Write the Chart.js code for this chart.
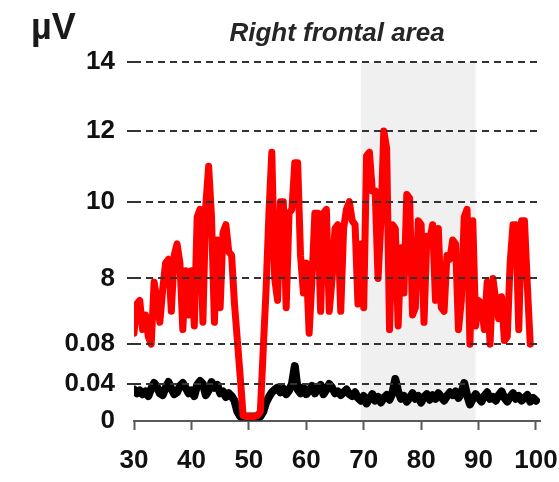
<!DOCTYPE html>
<html>
<head>
<meta charset="utf-8">
<title>Right frontal area</title>
<script src="https://cdn.jsdelivr.net/npm/chart.js@4/dist/chart.umd.min.js"></script>
<style>
    html, body { margin: 0; padding: 0; background: #fff; }
    #wrap { position: relative; width: 559px; height: 482px; }
</style>
</head>
<body>
<div id="wrap"><canvas id="chart"></canvas></div>
<script>
// sample times (x axis)
const sampleTimes = [
    30, 30.5, 31, 31.5, 32, 32.5, 33, 33.5, 34, 34.5,
    35, 35.5, 36, 36.5, 37, 37.5, 38, 38.5, 39, 39.5,
    40, 40.5, 41, 41.5, 42, 42.5, 43, 43.5, 44, 44.5,
    45, 45.5, 46, 46.5, 47, 47.5, 48, 48.5, 49, 49.5,
    50, 50.5, 51, 51.5, 52, 52.5, 53, 53.5, 54, 54.5,
    55, 55.5, 56, 56.5, 57, 57.5, 58, 58.5, 59, 59.5,
    60, 60.5, 61, 61.5, 62, 62.5, 63, 63.5, 64, 64.5,
    65, 65.5, 66, 66.5, 67, 67.5, 68, 68.5, 69, 69.5,
    70, 70.5, 71, 71.5, 72, 72.5, 73, 73.5, 74, 74.5,
    75, 75.5, 76, 76.5, 77, 77.5, 78, 78.5, 79, 79.5,
    80, 80.5, 81, 81.5, 82, 82.5, 83, 83.5, 84, 84.5,
    85, 85.5, 86, 86.5, 87, 87.5, 88, 88.5, 89, 89.5,
    90, 90.5, 91, 91.5, 92, 92.5, 93, 93.5, 94, 94.5,
    95, 95.5, 96, 96.5, 97, 97.5, 98, 98.5, 99, 99.5,
    100
];

// red trace (µV)
const redValues = [
    6.5, 7.3, 7.4, 6.6, 7.0, 6.4, 6.0, 7.9, 7.4, 6.8,
    7.7, 8.4, 8.5, 7.1, 8.6, 8.9, 8.4, 6.6, 8.2, 7.0,
    8.2, 6.7, 9.6, 9.8, 6.8, 9.9, 11.0, 9.6, 6.8, 9.0,
    7.2, 9.2, 9.4, 8.7, 8.6, 7.3, 6.3, 0.047, 0.006, 0.005,
    0.005, 0.005, 0.005, 0.006, 0.01, 0.074, 7.7, 9.7, 11.4, 8.0,
    7.4, 10.0, 10.0, 7.2, 9.7, 9.8, 11.1, 11.1, 8.6, 7.6,
    8.4, 6.5, 8.0, 9.7, 9.7, 7.1, 9.7, 9.8, 7.1, 8.0,
    9.3, 9.4, 7.1, 9.3, 9.8, 10.0, 9.5, 9.4, 7.3, 8.9,
    7.2, 11.3, 11.4, 10.3, 10.3, 8.0, 9.5, 12.0, 11.5, 6.6,
    9.4, 9.3, 6.7, 8.8, 7.6, 10.2, 10.1, 7.0, 7.2, 9.5,
    9.4, 6.8, 9.1, 9.0, 9.4, 7.4, 9.3, 7.2, 7.1, 8.6,
    8.5, 9.0, 8.9, 6.6, 7.4, 9.6, 9.8, 6.2, 9.5, 6.7,
    7.4, 7.3, 6.6, 7.9, 6.2, 8.0, 7.4, 6.9, 7.5, 6.3,
    6.4, 8.4, 9.4, 9.4, 6.6, 9.5, 9.5, 7.8, 6.0, null,
    null
];

// black trace (µV)
const blackValues = [
    0.034, 0.030, 0.033, 0.029, 0.032, 0.027, 0.035, 0.041, 0.037, 0.030,
    0.028, 0.036, 0.042, 0.035, 0.029, 0.031, 0.038, 0.041, 0.036, 0.030,
    0.033, 0.027, 0.039, 0.043, 0.040, 0.028, 0.033, 0.042, 0.036, 0.039,
    0.030, 0.032, 0.026, 0.030, 0.027, 0.022, 0.010, 0.005, 0.005, 0.005,
    0.005, 0.005, 0.005, 0.005, 0.005, 0.010, 0.020, 0.026, 0.031, 0.034,
    0.036, 0.031, 0.035, 0.029, 0.033, 0.040, 0.058, 0.034, 0.030, 0.036,
    0.029, 0.033, 0.038, 0.030, 0.035, 0.039, 0.029, 0.034, 0.040, 0.036,
    0.030, 0.032, 0.028, 0.031, 0.034, 0.029, 0.027, 0.031, 0.025, 0.022,
    0.027, 0.019, 0.024, 0.029, 0.022, 0.026, 0.020, 0.025, 0.028, 0.023,
    0.030, 0.045, 0.032, 0.024, 0.027, 0.021, 0.025, 0.030, 0.024, 0.027,
    0.020, 0.026, 0.029, 0.023, 0.028, 0.024, 0.030, 0.026, 0.022, 0.027,
    0.031, 0.028, 0.032, 0.025, 0.030, 0.041, 0.028, 0.018, 0.024, 0.029,
    0.025, 0.021, 0.027, 0.031, 0.024, 0.026, 0.022, 0.028, 0.032, 0.025,
    0.021, 0.026, 0.030, 0.024, 0.027, 0.022, 0.025, 0.028, 0.021, 0.025,
    0.022
];

const xTickValues = [30, 40, 50, 60, 70, 80, 90, 100];
const yTickValues = [0, 0.04, 0.08, 8, 10, 12, 14];
const yTickLabels = ["0", "0.04", "0.08", "8", "10", "12", "14"];

// shaded window on the x axis
const shadeRange = [69.5, 89.5];

const chartTitle = "Right frontal area";
const unitLabel = "µV";

// broken y axis: value -> share of axis height (gap between 0.08 and 6.2)
const breakValues = [0, 0.04, 0.08, 6.2, 8, 10, 12, 14];
const breakShares = [0, 0.103, 0.214, 0.214, 0.397, 0.611, 0.808, 1];

class BrokenScale extends Chart.LinearScale {
    buildTicks() {
        return yTickValues.map(v => ({ value: v }));
    }
    getPixelForValue(value) {
        if (value === null || value === undefined || isNaN(value)) return NaN;
        let share = 0;
        if (value <= breakValues[0]) {
            share = 0;
        } else if (value >= breakValues[breakValues.length - 1]) {
            share = 1;
        } else {
            for (let i = 1; i < breakValues.length; i++) {
                if (value <= breakValues[i]) {
                    const a = breakValues[i - 1], b = breakValues[i];
                    const t = (value - a) / (b - a);
                    share = breakShares[i - 1] + t * (breakShares[i] - breakShares[i - 1]);
                    break;
                }
            }
        }
        return this.getPixelForDecimal(share);
    }
    getValueForPixel(pixel) {
        const share = this.getDecimalForPixel(pixel);
        for (let i = 1; i < breakShares.length; i++) {
            if (share <= breakShares[i] && breakShares[i] > breakShares[i - 1]) {
                const t = (share - breakShares[i - 1]) / (breakShares[i] - breakShares[i - 1]);
                return breakValues[i - 1] + t * (breakValues[i] - breakValues[i - 1]);
            }
        }
        return breakValues[breakValues.length - 1];
    }
}
BrokenScale.id = "broken";
BrokenScale.defaults = Chart.LinearScale.defaults;
Chart.register(BrokenScale);

const shadePlugin = {
    id: "shade",
    beforeDraw(chart) {
        const { ctx, chartArea, scales } = chart;
        const x1 = scales.x.getPixelForValue(shadeRange[0]);
        const x2 = scales.x.getPixelForValue(shadeRange[1]);
        ctx.save();
        ctx.fillStyle = "#f0f0f0";
        ctx.fillRect(x1, chartArea.top, x2 - x1, chartArea.bottom - chartArea.top);
        ctx.restore();
    },
    afterDraw(chart) {
        const { ctx, chartArea } = chart;
        ctx.save();
        ctx.fillStyle = "#1a1a1a";
        ctx.textBaseline = "alphabetic";
        ctx.font = "bold 36px 'Liberation Sans', Arial, sans-serif";
        ctx.textAlign = "left";
        ctx.fillText(unitLabel, 31, 39);
        ctx.fillStyle = "#262626";
        ctx.font = "italic bold 26px 'Liberation Sans', Arial, sans-serif";
        ctx.textAlign = "center";
        ctx.fillText(chartTitle, (chartArea.left + chartArea.right) / 2, 41);
        ctx.restore();
    }
};

const tickFont = { family: "'Liberation Sans', Arial, sans-serif", size: 26, weight: "bold" };

new Chart(document.getElementById("chart"), {
    type: "line",
    data: {
        datasets: [
            {
                label: "red",
                data: sampleTimes.map((t, i) => ({ x: t, y: redValues[i] })),
                borderColor: "#ff0000",
                borderWidth: 7,
                borderJoinStyle: "round",
                borderCapStyle: "round",
                pointRadius: 0,
                tension: 0,
                fill: false
            },
            {
                label: "black",
                data: sampleTimes.map((t, i) => ({ x: t, y: blackValues[i] })),
                borderColor: "#000000",
                borderWidth: 8,
                borderJoinStyle: "round",
                borderCapStyle: "round",
                pointRadius: 0,
                tension: 0,
                fill: false
            }
        ]
    },
    options: {
        responsive: true,
        maintainAspectRatio: false,
        animation: false,
        layout: { padding: { top: 62, right: 19, bottom: 0, left: 0 } },
        plugins: {
            legend: { display: false },
            title: { display: false },
            tooltip: { enabled: false }
        },
        scales: {
            x: {
                type: "linear",
                min: 30,
                max: 100.7,
                afterBuildTicks: scale => { scale.ticks = xTickValues.map(v => ({ value: v })); },
                afterFit: scale => {
                    scale.height = 61;
                    scale.paddingLeft = 0;
                    scale.paddingRight = 0;
                },
                border: { display: true, color: "#595959", width: 2 },
                grid: {
                    drawOnChartArea: false,
                    drawTicks: true,
                    tickLength: 9,
                    tickColor: "#595959",
                    tickWidth: 2
                },
                ticks: {
                    font: tickFont,
                    color: "#111",
                    padding: 15,
                    maxRotation: 0,
                    callback: v => String(v)
                }
            },
            y: {
                type: "broken",
                min: 0,
                max: 14,
                afterFit: scale => { scale.width = 134; },
                border: { display: false, dash: [7, 5] },
                grid: {
                    z: 1,
                    color: ctx => (ctx.tick && ctx.tick.value === 0) ? "rgba(0,0,0,0)" : "#333333",
                    tickColor: ctx => (ctx.tick && ctx.tick.value === 0) ? "rgba(0,0,0,0)" : "#333333",
                    lineWidth: 2,
                    tickWidth: 2,
                    tickLength: 7,
                    tickBorderDash: [7, 5]
                },
                ticks: {
                    font: tickFont,
                    color: "#111",
                    padding: 12,
                    callback: (v, i) => yTickLabels[i]
                }
            }
        }
    },
    plugins: [shadePlugin]
});
</script>
</body>
</html>
